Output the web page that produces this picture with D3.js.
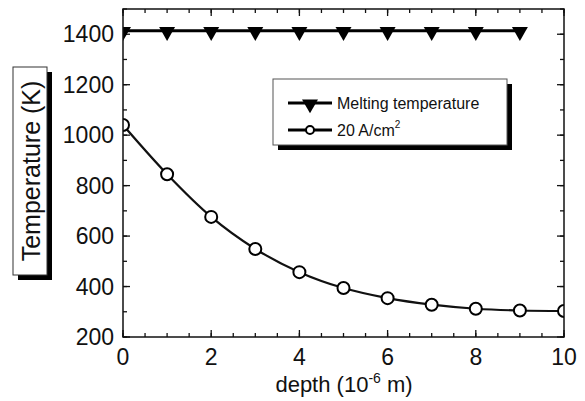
<!DOCTYPE html>
<html>
<head>
<meta charset="utf-8">
<script src="https://cdn.jsdelivr.net/npm/d3@7"></script>
<style>
  body { margin: 0; background: #fff; }
  svg { display: block; font-family: "Liberation Sans", Arial, sans-serif; }
</style>
</head>
<body>
<svg id="chart" width="585" height="401"></svg>
<script>
// data
const depth = [0, 1, 2, 3, 4, 5, 6, 7, 8, 9, 10];
const temp20 = [1040, 845, 676, 549, 457, 394, 354, 328, 312, 305, 303];
const meltDepth = [0, 1, 2, 3, 4, 5, 6, 7, 8, 9];
const meltTemp = 1414;
const xTicks = [0, 2, 4, 6, 8, 10];
const yTicks = [200, 400, 600, 800, 1000, 1200, 1400];
const legendLabels = ["Melting temperature", "20 A/cm"];

const plot = { left: 123, right: 564, top: 9, bottom: 337 };
const svg = d3.select("#chart");

const x = d3.scaleLinear().domain([0, 10]).range([plot.left, plot.right]);
const y = d3.scaleLinear().domain([200, 1500]).range([plot.bottom, plot.top]);

// minor ticks
const xMinor = d3.range(0, 10.01, 0.5);
const yMinor = d3.range(200, 1501, 100);

svg.append("clipPath").attr("id", "clip").append("rect")
  .attr("x", plot.left).attr("y", plot.top)
  .attr("width", plot.right - plot.left).attr("height", plot.bottom - plot.top);

const g = svg.append("g");

// ticks inward, all four sides
function tickLines(vals, isX, major) {
  const len = major ? 7 : 4;
  vals.forEach(v => {
    if (isX) {
      g.append("line").attr("x1", x(v)).attr("x2", x(v))
        .attr("y1", plot.bottom).attr("y2", plot.bottom - len);
      g.append("line").attr("x1", x(v)).attr("x2", x(v))
        .attr("y1", plot.top).attr("y2", plot.top + len);
    } else {
      g.append("line").attr("x1", plot.left).attr("x2", plot.left + len)
        .attr("y1", y(v)).attr("y2", y(v));
      g.append("line").attr("x1", plot.right).attr("x2", plot.right - len)
        .attr("y1", y(v)).attr("y2", y(v));
    }
  });
}
tickLines(xMinor, true, false);
tickLines(xTicks, true, true);
tickLines(yMinor, false, false);
tickLines(yTicks, false, true);
g.selectAll("line").attr("stroke", "#111").attr("stroke-width", 1.3);

// tick labels
svg.append("g").selectAll("text").data(xTicks).join("text")
  .attr("x", d => x(d)).attr("y", 365)
  .attr("text-anchor", "middle").attr("font-size", 23).attr("fill", "#111")
  .text(d => d);
svg.append("g").selectAll("text").data(yTicks).join("text")
  .attr("x", 114).attr("y", d => y(d) + 8)
  .attr("text-anchor", "end").attr("font-size", 23).attr("fill", "#111")
  .text(d => d);

// x label
const xl = svg.append("text").attr("x", 344).attr("y", 392)
  .attr("text-anchor", "middle").attr("font-size", 22).attr("fill", "#111");
xl.append("tspan").text("depth (10");
xl.append("tspan").attr("font-size", 14).attr("dy", -9).text("-6");
xl.append("tspan").attr("dy", 9).text(" m)");

// y label box with shadow
svg.append("rect").attr("x", 18).attr("y", 72).attr("width", 34).attr("height", 208).attr("fill", "#000");
svg.append("rect").attr("x", 13).attr("y", 67).attr("width", 34).attr("height", 208)
  .attr("fill", "#fff").attr("stroke", "#333").attr("stroke-width", 1);
svg.append("text")
  .attr("transform", "translate(40,171) rotate(-90)")
  .attr("text-anchor", "middle").attr("font-size", 25).attr("fill", "#111")
  .text("Temperature (K)");

const area = svg.append("g").attr("clip-path", "url(#clip)");

// 20 A/cm2 curve
const line = d3.line().x(d => x(d[0])).y(d => y(d[1])).curve(d3.curveMonotoneX);
const pts = depth.map((d, i) => [d, temp20[i]]);
area.append("path").datum(pts).attr("d", line)
  .attr("fill", "none").attr("stroke", "#111").attr("stroke-width", 2.2);

// melting line
area.append("line")
  .attr("x1", x(meltDepth[0])).attr("x2", x(meltDepth[meltDepth.length - 1]))
  .attr("y1", y(meltTemp)).attr("y2", y(meltTemp))
  .attr("stroke", "#000").attr("stroke-width", 3);

const tri = d3.symbol().type(d3.symbolTriangle).size(110);
area.append("g").selectAll("path").data(meltDepth).join("path")
  .attr("d", tri)
  .attr("transform", d => `translate(${x(d)},${y(meltTemp) + 1}) rotate(180)`)
  .attr("fill", "#000");

// circles
area.append("g").selectAll("circle").data(pts).join("circle")
  .attr("cx", d => x(d[0])).attr("cy", d => y(d[1])).attr("r", 6)
  .attr("fill", "#fff").attr("stroke", "#000").attr("stroke-width", 2);

// frame
svg.append("rect")
  .attr("x", plot.left).attr("y", plot.top)
  .attr("width", plot.right - plot.left).attr("height", plot.bottom - plot.top)
  .attr("fill", "none").attr("stroke", "#111").attr("stroke-width", 1.5);

// legend
const lg = { x: 273, y: 79, w: 234, h: 66 };
svg.append("rect").attr("x", lg.x + 5).attr("y", lg.y + 5).attr("width", lg.w).attr("height", lg.h).attr("fill", "#000");
svg.append("rect").attr("x", lg.x).attr("y", lg.y).attr("width", lg.w).attr("height", lg.h)
  .attr("fill", "#fff").attr("stroke", "#555").attr("stroke-width", 1);

const rows = [103, 130];
rows.forEach((ry, i) => {
  svg.append("line").attr("x1", 288).attr("x2", 332).attr("y1", ry).attr("y2", ry)
    .attr("stroke", "#000").attr("stroke-width", 3);
  if (i === 0) {
    svg.append("path").attr("d", tri).attr("fill", "#000")
      .attr("transform", `translate(310,${ry + 1}) rotate(180)`);
  } else {
    svg.append("circle").attr("cx", 310).attr("cy", ry).attr("r", 4)
      .attr("fill", "#fff").attr("stroke", "#000").attr("stroke-width", 2);
  }
  const t = svg.append("text").attr("x", 337).attr("y", ry + 6)
    .attr("font-size", 16).attr("fill", "#111").text(legendLabels[i]);
  if (i === 1) t.append("tspan").attr("font-size", 10).attr("dy", -8).text("2");
});
</script>
</body>
</html>
